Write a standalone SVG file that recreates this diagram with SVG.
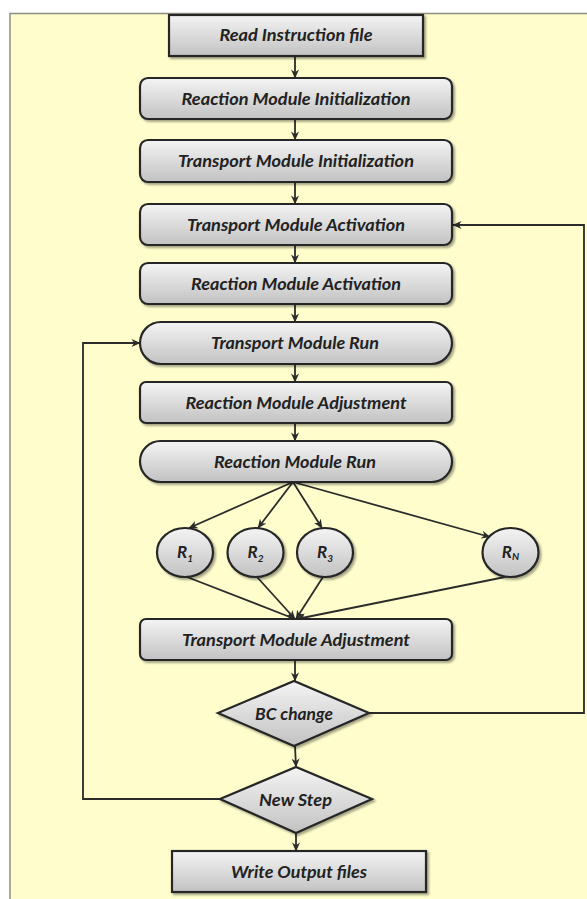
<svg xmlns="http://www.w3.org/2000/svg" width="587" height="899" viewBox="0 0 587 899">
  <defs>
    <linearGradient id="boxFill" x1="0" y1="0" x2="0" y2="1">
      <stop offset="0" stop-color="#f4f4f4"/>
      <stop offset="1" stop-color="#c2c2c2"/>
    </linearGradient>
    <filter id="shadow" x="-10%" y="-20%" width="120%" height="150%">
      <feGaussianBlur in="SourceAlpha" stdDeviation="1"/>
      <feOffset dx="1.5" dy="2" result="off"/>
      <feComponentTransfer><feFuncA type="linear" slope="0.35"/></feComponentTransfer>
      <feMerge><feMergeNode/><feMergeNode in="SourceGraphic"/></feMerge>
    </filter>
    <marker id="arrow" viewBox="0 0 10 10" refX="9.5" refY="5" markerWidth="9" markerHeight="9" markerUnits="userSpaceOnUse" orient="auto">
      <path d="M0,0.5 L10,5 L0,9.5 L3,5 z" fill="#2b2b2b"/>
    </marker>
  </defs>
  <style>
    .shape { fill: url(#boxFill); stroke: #262626; stroke-width: 2.2; filter: url(#shadow); }
    .label { font-family: Lato, "Liberation Sans", sans-serif; font-weight: bold; font-style: italic; font-size: 17px; fill: #222; text-anchor: middle; }
    .sub { font-size: 10px; }
    .conn { fill: none; stroke: #2b2b2b; stroke-width: 1.8; }
    .arr { marker-end: url(#arrow); }
  </style>

  <!-- panel background -->
  <rect x="10" y="13.5" width="600" height="900" fill="#fffdcc" stroke="#8e8e80" stroke-width="1.5"/>

  <!-- connectors -->
  <g id="connectors">
    <line class="conn arr" x1="295" y1="56" x2="295" y2="78"/>
    <line class="conn arr" x1="295" y1="119" x2="295" y2="140"/>
    <line class="conn arr" x1="295" y1="182" x2="295" y2="204"/>
    <line class="conn arr" x1="295" y1="245" x2="295" y2="263"/>
    <line class="conn arr" x1="295" y1="304" x2="295" y2="322"/>
    <line class="conn arr" x1="295" y1="364" x2="295" y2="382"/>
    <line class="conn arr" x1="295" y1="423" x2="295" y2="441"/>
    <!-- fan-out to reaction workers -->
    <line class="conn arr" x1="293" y1="482" x2="189" y2="528"/>
    <line class="conn arr" x1="293" y1="482" x2="258" y2="528"/>
    <line class="conn arr" x1="293" y1="482" x2="322" y2="528"/>
    <line class="conn arr" x1="293" y1="482" x2="490" y2="537"/>
    <!-- fan-in to transport adjustment -->
    <line class="conn arr" x1="187" y1="577" x2="295" y2="619"/>
    <line class="conn arr" x1="257" y1="577" x2="295" y2="619"/>
    <line class="conn arr" x1="323" y1="577" x2="296" y2="619"/>
    <line class="conn arr" x1="505" y1="577" x2="297" y2="619"/>
    <line class="conn arr" x1="295" y1="660" x2="295" y2="681"/>
    <line class="conn arr" x1="295" y1="746" x2="296" y2="767"/>
    <line class="conn arr" x1="296" y1="833" x2="296" y2="851"/>
    <!-- loops -->
    <polyline class="conn arr" points="369,713 584,713 584,225 453,225"/>
    <polyline class="conn arr" points="220,799 83,799 83,343 140,343"/>
  </g>

  <g id="read-instruction">
    <rect class="shape" x="169" y="15" width="254" height="41"/>
    <text class="label" x="296" y="41" textLength="153" lengthAdjust="spacingAndGlyphs">Read Instruction file</text>
  </g>
  <g id="reaction-init">
    <rect class="shape" x="140" y="78" width="312" height="41" rx="8"/>
    <text class="label" x="296" y="104.5" textLength="229" lengthAdjust="spacingAndGlyphs">Reaction Module Initialization</text>
  </g>
  <g id="transport-init">
    <rect class="shape" x="140" y="140" width="312" height="42" rx="8"/>
    <text class="label" x="296" y="167" textLength="236" lengthAdjust="spacingAndGlyphs">Transport Module Initialization</text>
  </g>
  <g id="transport-activation">
    <rect class="shape" x="140" y="204" width="312" height="41" rx="8"/>
    <text class="label" x="296" y="230.5" textLength="218" lengthAdjust="spacingAndGlyphs">Transport Module Activation</text>
  </g>
  <g id="reaction-activation">
    <rect class="shape" x="140" y="263" width="312" height="41" rx="8"/>
    <text class="label" x="296" y="289.5" textLength="210" lengthAdjust="spacingAndGlyphs">Reaction Module Activation</text>
  </g>
  <g id="transport-run">
    <rect class="shape" x="140" y="322" width="312" height="42" rx="21"/>
    <text class="label" x="295" y="349" textLength="168" lengthAdjust="spacingAndGlyphs">Transport Module Run</text>
  </g>
  <g id="reaction-adjustment">
    <rect class="shape" x="140" y="382" width="312" height="41" rx="6"/>
    <text class="label" x="296" y="408.5" textLength="221" lengthAdjust="spacingAndGlyphs">Reaction Module Adjustment</text>
  </g>
  <g id="reaction-run">
    <rect class="shape" x="140" y="441" width="312" height="41" rx="20.5"/>
    <text class="label" x="295" y="467.5" textLength="162" lengthAdjust="spacingAndGlyphs">Reaction Module Run</text>
  </g>

  <g id="r1">
    <ellipse class="shape" cx="185" cy="552.5" rx="28" ry="24.5"/>
    <text class="label" x="185" y="558">R<tspan class="sub" dy="4">1</tspan></text>
  </g>
  <g id="r2">
    <ellipse class="shape" cx="255.5" cy="552.5" rx="28" ry="24.5"/>
    <text class="label" x="255.5" y="558">R<tspan class="sub" dy="4">2</tspan></text>
  </g>
  <g id="r3">
    <ellipse class="shape" cx="325" cy="552.5" rx="28" ry="24.5"/>
    <text class="label" x="325" y="558">R<tspan class="sub" dy="4">3</tspan></text>
  </g>
  <g id="rn">
    <ellipse class="shape" cx="510.5" cy="552.5" rx="28" ry="24.5"/>
    <text class="label" x="510.5" y="558">R<tspan class="sub" dy="2">N</tspan></text>
  </g>

  <g id="transport-adjustment">
    <rect class="shape" x="140" y="619" width="312" height="41" rx="6"/>
    <text class="label" x="296" y="645.5" textLength="228" lengthAdjust="spacingAndGlyphs">Transport Module Adjustment</text>
  </g>
  <g id="bc-change">
    <polygon class="shape" points="218,713 294,681 369,713 294,746"/>
    <text class="label" x="294" y="719.5" textLength="78" lengthAdjust="spacingAndGlyphs">BC change</text>
  </g>
  <g id="new-step">
    <polygon class="shape" points="220,799 296,767 372,799 296,833"/>
    <text class="label" x="295.5" y="805.5" textLength="73" lengthAdjust="spacingAndGlyphs">New Step</text>
  </g>
  <g id="write-output">
    <rect class="shape" x="172" y="851" width="254" height="41"/>
    <text class="label" x="299" y="877.5" textLength="136" lengthAdjust="spacingAndGlyphs">Write Output files</text>
  </g>
</svg>
